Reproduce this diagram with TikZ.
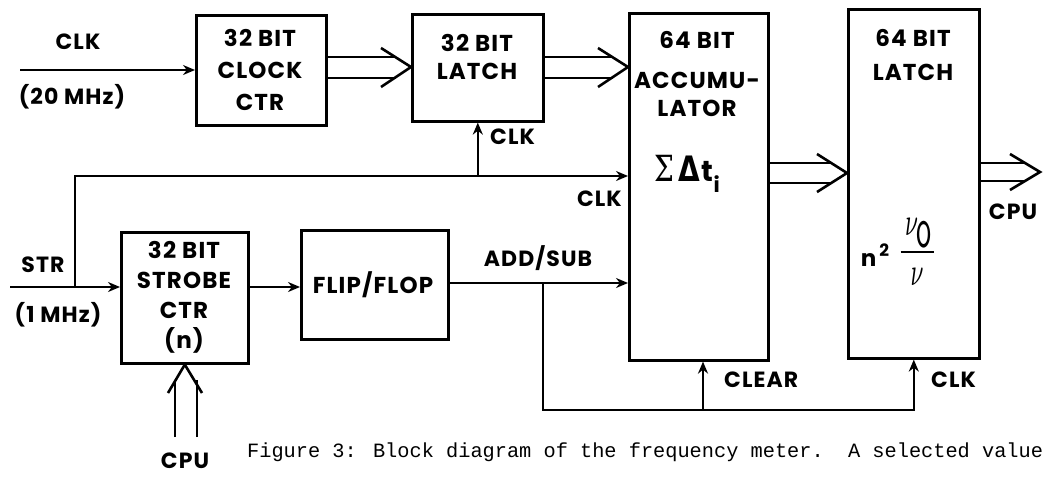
\documentclass[tikz,border=0pt]{standalone}
\usepackage{fontspec}
\newfontfamily\lbl[LetterSpace=5]{Poppins}
\newfontfamily\capfont{Liberation Mono}
\newfontfamily\dvs{DejaVu Sans}
\newfontfamily\dvserif{DejaVu Serif}
\usetikzlibrary{arrows.meta,calc}
\tikzset{
  box/.style={draw, line width=2.6pt, anchor=north west, inner sep=0pt},
  wire/.style={line width=2.6pt},
  arr/.style={wire, -{Stealth[length=12pt,width=10pt]}},
  bus/.style={line width=2.6pt, line join=miter},
  txt/.style={font=\lbl\bfseries\fontsize{23}{28}\selectfont, align=center, inner sep=0pt},
  lab/.style={font=\lbl\bfseries\fontsize{22}{22}\selectfont, inner sep=0pt},
}
\newcommand\hbus[5]{%
  \draw[bus] (#1 |- 0,#3) -- ($(#2 |- 0,#3)+(-15,0)$);
  \draw[bus] (#1 |- 0,#5) -- ($(#2 |- 0,#5)+(-15,0)$);
  \draw[bus] ($(#2 |- 0,#3)+(-30,-9)$) -- (#2 |- 0,#4) -- ($(#2 |- 0,#5)+(-30,9)$);
}
\newcommand\nufrac{\resizebox{40pt}{48pt}{$\textstyle\frac{\,\nu_{\textsf{o}}}{\nu}$}}
\begin{document}
\begin{tikzpicture}[x=1pt,y=-1pt]
\useasboundingbox (0,0) rectangle (1044,477);
% boxes
\node[box, minimum width=130pt, minimum height=110pt] (clk) at (195,14) {};
\node[box, minimum width=131pt, minimum height=107pt] (latch) at (411,13) {};
\node[box, minimum width=139pt, minimum height=347pt] (acc) at (628,12) {};
\node[box, minimum width=131pt, minimum height=349pt] (l64) at (847,8) {};
\node[box, minimum width=127pt, minimum height=131pt] (strobe) at (120,231) {};
\node[box, minimum width=147pt, minimum height=109pt] (ff) at (300,229) {};
% box texts
\node[txt, font=\lbl\bfseries\fontsize{23}{32}\selectfont] (tclk) at (260,70) {32 BIT\\CLOCK\\CTR};
\node[txt] (tlatch) at (477,57) {32 BIT\\LATCH};
\node[txt] (tacc) at (697,74) {64 BIT\\[12pt]ACCUMU-\\LATOR};
\node[txt, font=\lbl\bfseries\fontsize{23}{34}\selectfont] (tl64) at (913,55) {64 BIT\\LATCH};
\node[txt, font=\lbl\bfseries\fontsize{23}{30}\selectfont] (tstrobe) at (184,297) {32 BIT\\STROBE\\CTR\\(n)};
\node[txt] (tff) at (373,285) {FLIP/FLOP};
\node[inner sep=0pt, anchor=base west] (sum) at (654,181) {\scalebox{0.78}[1]{\dvserif\fontsize{36}{36}\selectfont Σ}\hspace{4pt}\scalebox{0.8}[1]{\dvs\bfseries\fontsize{35}{35}\selectfont Δ}\hspace{2pt}{\lbl\bfseries\fontsize{29}{29}\selectfont t}\raisebox{-11pt}{\lbl\bfseries\fontsize{21}{21}\selectfont i}};
\node[inner sep=0pt] (form) at (899,252) {{\lbl\bfseries\fontsize{23}{23}\selectfont n}\hspace{3pt}\raisebox{10pt}{\lbl\bfseries\fontsize{17}{17}\selectfont 2}\hspace{8pt}\nufrac};
% inputs
\coordinate (clkin) at (20,70);
\draw[arr] (clkin) -- (clk.west |- clkin);
\coordinate (strin) at (10,287);
\coordinate (j1) at (75,287);
\draw[arr] (strin) -- (strobe.west |- strin);
\draw[arr] (j1) |- (acc.west |- 0,176);
\draw[arr] (latch.south |- 0,176) -- (latch.south);
\draw[arr] (strobe.east |- 0,287) -- (ff.west |- 0,287);
\draw[arr] (ff.east |- 0,283) -- (acc.west |- 0,283);
\coordinate (j2) at (543,283);
\draw[arr] (j2) |- (l64.south |- 0,410) -- (l64.south);
\coordinate (j3) at (703,410);
\draw[arr] (j3) -- (acc.south -| j3);
% buses
\hbus{clk.east}{latch.west}{57}{67}{78}
\hbus{latch.east}{acc.west}{57}{67}{78}
\hbus{acc.east}{l64.west}{163}{173}{183}
\coordinate (outtip) at (1040,172);
\hbus{l64.east}{outtip}{163}{172}{181}
% CPU bus into strobe counter
\coordinate (cpu1) at (175,437);
\coordinate (cpu2) at (197,437);
\draw[bus] (cpu1) -- (175,380);
\draw[bus] (cpu2) -- (197,380);
\draw[bus] (168,393) -- (strobe.south) -- (202,393);
% labels
\node[lab] (lclk) at (78,42) {CLK};
\node[lab] (l20) at (72,97) {(20 MHz)};
\node[lab] (lstr) at (43,265) {STR};
\node[lab] (l1) at (58,315) {(1 MHz)};
\node[lab, anchor=west] (lclk2) at (490,137) {CLK};
\node[lab, anchor=east] (lclk3) at (622,199) {CLK};
\node[lab] (ladd) at (538,258) {ADD/SUB};
\node[lab, anchor=west] (lclear) at (724,380) {CLEAR};
\node[lab, anchor=west] (lclk4) at (931,380) {CLK};
\node[lab] (lcpu1) at (1013,212) {CPU};
\node[lab] (lcpu2) at (185,461) {CPU};
% caption
\node[anchor=base west, inner sep=0pt, font=\capfont\fontsize{20.3}{20.3}\selectfont] (cap) at (247,457) {Figure 3: Block diagram of the frequency meter.\ \ A selected value};
\end{tikzpicture}
\end{document}
